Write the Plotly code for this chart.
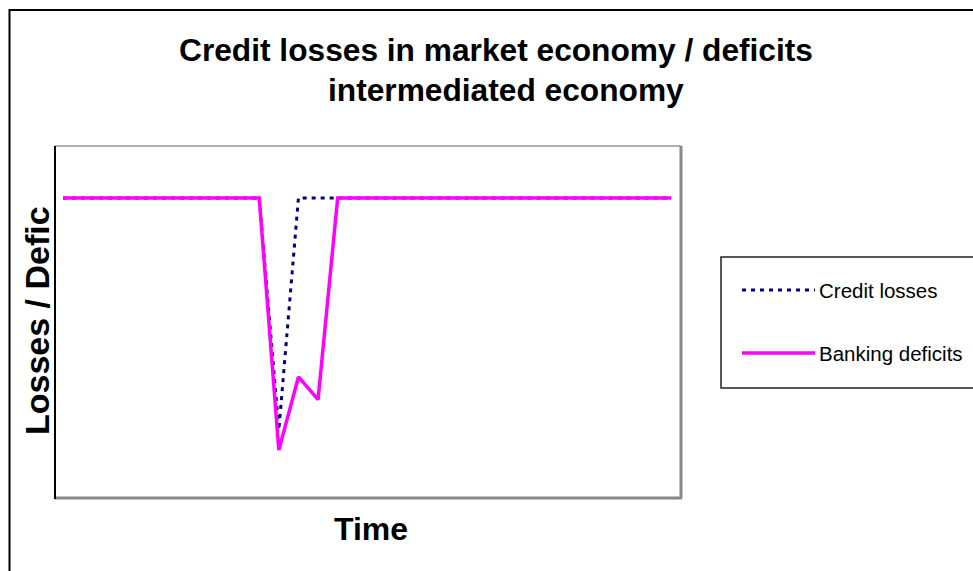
import plotly.graph_objects as go

# Data (arbitrary units, 0 = baseline)
time_idx = list(range(32))
credit_losses = [0]*11 + [-92] + [0]*20
banking_deficits = [0]*11 + [-100, -71, -80] + [0]*18

title_line1 = "Credit losses in market economy / deficits"
title_line2 = "intermediated economy"
x_title = "Time"
y_title = "Losses / Defic"
series_names = ["Credit losses", "Banking deficits"]

L, R, T, B = 55, 681, 146, 498
W, H = 973, 571
pw, ph = R - L, B - T

def px(x):
    return (x - L) / pw

def py(y):
    return (B - y) / ph

FONT = "Liberation Sans, Arial, sans-serif"

fig = go.Figure()
fig.add_trace(go.Scatter(x=time_idx, y=credit_losses, mode="lines", name=series_names[0],
                         line=dict(color="#000080", width=3, dash="4px,5px"), showlegend=False))
fig.add_trace(go.Scatter(x=time_idx, y=banking_deficits, mode="lines", name=series_names[1],
                         line=dict(color="#FF00FF", width=3.5), showlegend=False))

shapes = []
# outer border
shapes.append(dict(type="rect", xref="paper", yref="paper", x0=px(9.5), x1=px(990), y0=py(590), y1=py(10),
                   line=dict(color="black", width=2), layer="below"))
# plot frame
shapes.append(dict(type="line", xref="paper", yref="paper", x0=px(55), x1=px(681), y0=py(146), y1=py(146),
                   line=dict(color="#999999", width=1.5)))
shapes.append(dict(type="line", xref="paper", yref="paper", x0=px(681), x1=px(681), y0=py(146), y1=py(498),
                   line=dict(color="#888888", width=3)))
shapes.append(dict(type="line", xref="paper", yref="paper", x0=px(55), x1=px(682), y0=py(498), y1=py(498),
                   line=dict(color="#888888", width=3)))
shapes.append(dict(type="line", xref="paper", yref="paper", x0=px(55), x1=px(55), y0=py(146), y1=py(499),
                   line=dict(color="black", width=2)))
# legend box
shapes.append(dict(type="rect", xref="paper", yref="paper", x0=px(721), x1=px(990), y0=py(388), y1=py(257),
                   line=dict(color="#222222", width=1.5)))
shapes.append(dict(type="line", xref="paper", yref="paper", x0=px(742), x1=px(815), y0=py(290), y1=py(290),
                   line=dict(color="#000080", width=3, dash="4px,5px")))
shapes.append(dict(type="line", xref="paper", yref="paper", x0=px(742), x1=px(815), y0=py(353), y1=py(353),
                   line=dict(color="#FF00FF", width=3.5)))

annotations = [
    dict(text="<b>%s</b>" % title_line1, xref="paper", yref="paper", x=px(496), y=py(50),
         xanchor="center", yanchor="middle", showarrow=False, font=dict(family=FONT, size=31.7, color="black")),
    dict(text="<b>%s</b>" % title_line2, xref="paper", yref="paper", x=px(506), y=py(90),
         xanchor="center", yanchor="middle", showarrow=False, font=dict(family=FONT, size=31.7, color="black")),
    dict(text="<b>%s</b>" % x_title, xref="paper", yref="paper", x=px(371), y=py(529),
         xanchor="center", yanchor="middle", showarrow=False, font=dict(family=FONT, size=32, color="black")),
    dict(text="<b>%s</b>" % y_title, xref="paper", yref="paper", x=px(37), y=py(321), textangle=-90,
         xanchor="center", yanchor="middle", showarrow=False, font=dict(family=FONT, size=34, color="black")),
    dict(text=series_names[0], xref="paper", yref="paper", x=px(817), y=py(290),
         xanchor="left", yanchor="middle", showarrow=False, font=dict(family=FONT, size=20.5, color="black")),
    dict(text=series_names[1], xref="paper", yref="paper", x=px(817), y=py(353),
         xanchor="left", yanchor="middle", showarrow=False, font=dict(family=FONT, size=20.5, color="black")),
]

fig.update_layout(
    width=W, height=H,
    margin=dict(l=L, r=W - R, t=T, b=H - B, pad=0),
    paper_bgcolor="white", plot_bgcolor="white",
    xaxis=dict(range=[-0.41, 31.5], showgrid=False, zeroline=False, showticklabels=False, ticks="", showline=False),
    yaxis=dict(range=[-119, 20.6], showgrid=False, zeroline=False, showticklabels=False, ticks="", showline=False),
    shapes=shapes, annotations=annotations, showlegend=False,
    font=dict(family=FONT),
)

fig.write_html("out.html", config={"displayModeBar": False},
               post_script="document.body.style.margin='0px';document.body.style.overflow='hidden';")
